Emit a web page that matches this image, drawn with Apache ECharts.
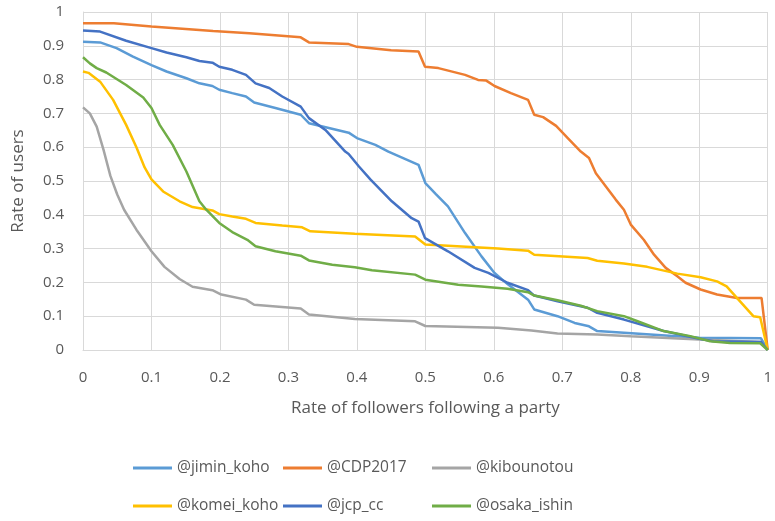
<!DOCTYPE html>
<html>
<head>
<meta charset="utf-8">
<script src="https://cdn.jsdelivr.net/npm/echarts@6/dist/echarts.min.js"></script>
<style>
    html, body { margin: 0; padding: 0; background: #fff; }
    #chart { width: 775px; height: 521px; }
</style>
</head>
<body>
<div id="chart"></div>
<script>
    // [rate of followers, rate of users]
    const jiminKoho = [[0,0.912],[0.025,0.91],[0.049,0.893],[0.073,0.868],[0.1,0.843],[0.122,0.824],[0.151,0.804],[0.17,0.789],[0.189,0.781],[0.199,0.77],[0.218,0.76],[0.238,0.75],[0.25,0.732],[0.281,0.716],[0.318,0.696],[0.33,0.671],[0.388,0.643],[0.4,0.627],[0.427,0.607],[0.446,0.587],[0.49,0.548],[0.5,0.494],[0.515,0.462],[0.533,0.425],[0.558,0.346],[0.582,0.277],[0.601,0.228],[0.62,0.195],[0.65,0.149],[0.659,0.12],[0.693,0.1],[0.718,0.08],[0.739,0.07],[0.751,0.056],[0.79,0.051],[0.9,0.036],[0.99,0.035],[1,0]]
    const cdp2017 = [[0,0.967],[0.045,0.967],[0.1,0.957],[0.19,0.944],[0.243,0.937],[0.318,0.925],[0.33,0.91],[0.388,0.905],[0.4,0.897],[0.45,0.887],[0.49,0.883],[0.4995,0.838],[0.519,0.834],[0.558,0.814],[0.577,0.799],[0.589,0.797],[0.601,0.781],[0.625,0.76],[0.65,0.74],[0.659,0.696],[0.672,0.689],[0.691,0.663],[0.708,0.627],[0.727,0.587],[0.739,0.568],[0.749,0.523],[0.778,0.445],[0.79,0.415],[0.8,0.371],[0.819,0.326],[0.834,0.282],[0.851,0.243],[0.868,0.218],[0.88,0.199],[0.902,0.179],[0.926,0.164],[0.955,0.154],[0.991,0.154],[1,0]]
    const kibounotou = [[0,0.718],[0.01,0.7],[0.02,0.661],[0.03,0.592],[0.04,0.515],[0.05,0.46],[0.06,0.415],[0.078,0.356],[0.1,0.292],[0.119,0.246],[0.141,0.21],[0.16,0.187],[0.189,0.177],[0.202,0.164],[0.238,0.149],[0.25,0.134],[0.318,0.123],[0.33,0.105],[0.397,0.092],[0.485,0.085],[0.5,0.071],[0.606,0.066],[0.655,0.058],[0.693,0.049],[0.751,0.046],[0.8,0.041],[0.9,0.031],[0.99,0.024],[1,0]]
    const komeiKoho = [[0,0.824],[0.008,0.82],[0.025,0.794],[0.044,0.74],[0.063,0.666],[0.078,0.6],[0.09,0.54],[0.1,0.505],[0.117,0.469],[0.141,0.44],[0.16,0.423],[0.189,0.413],[0.199,0.402],[0.218,0.395],[0.238,0.388],[0.252,0.376],[0.291,0.368],[0.32,0.363],[0.332,0.351],[0.397,0.344],[0.485,0.336],[0.5,0.312],[0.606,0.3],[0.65,0.294],[0.659,0.282],[0.737,0.272],[0.751,0.264],[0.79,0.256],[0.824,0.246],[0.868,0.226],[0.902,0.215],[0.926,0.203],[0.94,0.188],[0.955,0.154],[0.979,0.1],[0.989,0.097],[1,0]]
    const jcpCc = [[0,0.945],[0.025,0.942],[0.063,0.915],[0.1,0.893],[0.122,0.88],[0.151,0.866],[0.17,0.855],[0.189,0.85],[0.199,0.838],[0.218,0.829],[0.238,0.814],[0.252,0.789],[0.272,0.775],[0.291,0.75],[0.318,0.72],[0.33,0.686],[0.354,0.651],[0.383,0.587],[0.388,0.58],[0.403,0.543],[0.42,0.504],[0.451,0.44],[0.48,0.39],[0.49,0.38],[0.4995,0.331],[0.533,0.292],[0.572,0.243],[0.592,0.228],[0.62,0.199],[0.65,0.177],[0.659,0.161],[0.693,0.144],[0.737,0.125],[0.751,0.11],[0.79,0.09],[0.848,0.056],[0.9,0.033],[0.921,0.026],[0.99,0.024],[1,0]]
    const osakaIshin = [[0,0.866],[0.01,0.848],[0.02,0.834],[0.034,0.821],[0.063,0.784],[0.088,0.747],[0.1,0.716],[0.112,0.666],[0.131,0.607],[0.151,0.528],[0.17,0.44],[0.18,0.415],[0.199,0.376],[0.218,0.349],[0.24,0.326],[0.252,0.307],[0.281,0.292],[0.318,0.279],[0.33,0.265],[0.364,0.252],[0.397,0.245],[0.422,0.236],[0.485,0.223],[0.5,0.208],[0.548,0.193],[0.582,0.188],[0.62,0.181],[0.65,0.171],[0.659,0.161],[0.693,0.147],[0.727,0.131],[0.751,0.115],[0.79,0.1],[0.81,0.085],[0.848,0.056],[0.887,0.041],[0.916,0.026],[0.945,0.021],[0.989,0.02],[1,0]]

    const seriesNames = ['@jimin_koho', '@CDP2017', '@kibounotou', '@komei_koho', '@jcp_cc', '@osaka_ishin']
    const seriesData = [jiminKoho, cdp2017, kibounotou, komeiKoho, jcpCc, osakaIshin]
    const colors = ['#5B9BD5', '#ED7D31', '#A5A5A5', '#FFC000', '#4472C4', '#70AD47']

    const font = 'Open Sans'
    const textColor = '#595959'
    const gridColor = '#d9d9d9'

    const myChart = echarts.init(document.getElementById('chart'))

    // excel legend: 3 fixed columns, 2 rows -> one small legend per entry
    const legendCols = [133, 283, 432]
    const legendRows = [460, 498]
    const legends = seriesNames.map((name, i) => ({
        left: legendCols[i % 3],
        top: legendRows[Math.floor(i / 3)],
        padding: 0,
        data: [name],
        icon: 'rect',
        itemWidth: 39,
        itemHeight: 3,
        textStyle: { fontFamily: font, fontSize: 15.5, color: textColor }
    }))

    const option = {
        animation: false,
        color: colors,
        grid: { left: 83, right: 4, top: 12, bottom: 171 },
        legend: legends,
        xAxis: {
            type: 'value',
            min: 0,
            max: 1,
            interval: 0.1,
            name: 'Rate of followers following a party',
            nameLocation: 'middle',
            nameGap: 50,
            nameTextStyle: { fontFamily: font, fontSize: 17, color: textColor },
            axisLine: { show: true, lineStyle: { color: gridColor } },
            axisTick: { show: false },
            axisLabel: { fontFamily: font, fontSize: 15, color: textColor, margin: 20 },
            splitLine: { show: true, lineStyle: { color: gridColor } }
        },
        yAxis: {
            type: 'value',
            min: 0,
            max: 1,
            interval: 0.1,
            name: 'Rate of users',
            nameLocation: 'middle',
            nameGap: 56,
            nameTextStyle: { fontFamily: font, fontSize: 17, color: textColor },
            axisLine: { show: true, lineStyle: { color: gridColor } },
            axisTick: { show: false },
            axisLabel: { fontFamily: font, fontSize: 15, color: textColor, margin: 19 },
            splitLine: { show: true, lineStyle: { color: gridColor } }
        },
        series: seriesNames.map((name, i) => ({
            name: name,
            type: 'line',
            data: seriesData[i],
            showSymbol: false,
            symbol: 'none',
            lineStyle: { width: 2.5 }
        }))
    }

    myChart.setOption(option)
</script>
</body>
</html>
